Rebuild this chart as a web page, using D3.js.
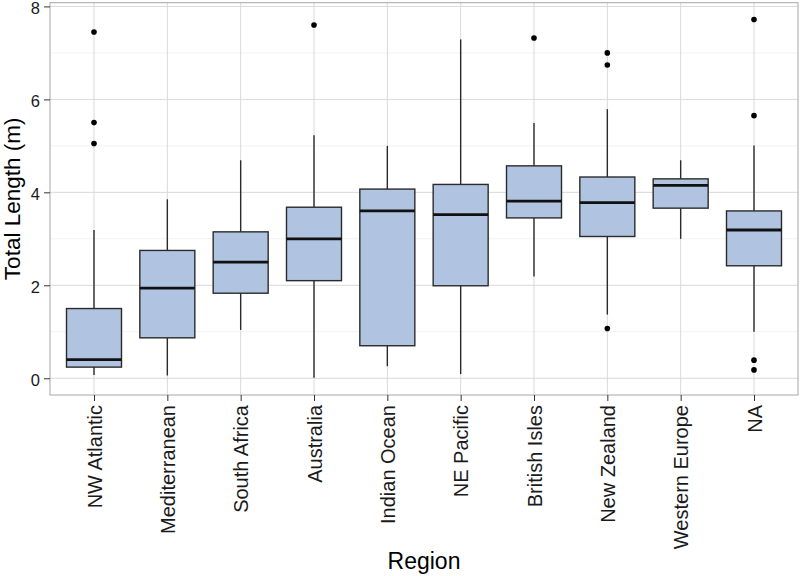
<!DOCTYPE html>
<html>
<head>
<meta charset="utf-8">
<script src="https://cdn.jsdelivr.net/npm/d3@7"></script>
<style>
  html, body { margin: 0; padding: 0; background: #fff; }
  svg { display: block; font-family: "Liberation Sans", Arial, Helvetica, sans-serif; }
</style>
</head>
<body>
<svg id="chart" width="800" height="576"></svg>
<script>
const categories = ["NW Atlantic", "Mediterranean", "South Africa", "Australia", "Indian Ocean",
                    "NE Pacific", "British Isles", "New Zealand", "Western Europe", "NA"];
const whiskerLow  = [0.07, 0.06, 1.04, 0.01, 0.26, 0.09, 2.19, 1.37, 3.00, 1.00];
const q1          = [0.24, 0.87, 1.83, 2.10, 0.70, 1.99, 3.45, 3.05, 3.66, 2.42];
const medians     = [0.40, 1.94, 2.50, 3.00, 3.60, 3.52, 3.81, 3.78, 4.15, 3.19];
const q3          = [1.50, 2.75, 3.15, 3.68, 4.07, 4.17, 4.57, 4.33, 4.29, 3.60];
const whiskerHigh = [3.19, 3.85, 4.69, 5.23, 5.00, 7.29, 5.49, 5.79, 4.69, 5.01];
const outliers    = [[7.45, 5.50, 5.05], [], [], [7.60], [], [], [7.32],
                     [7.00, 6.74, 1.07], [], [7.72, 5.65, 0.39, 0.18]];
const yTicks = [0, 2, 4, 6, 8];
const yMinor = [1, 3, 5, 7];

const svg = d3.select("#chart");
const L = 50, R = 798, T = 2.7, B = 395;

const x = d3.scalePoint().domain(categories).range([L, R]).padding(0.6);
const y = d3.scaleLinear().domain([-0.36, 8.08]).range([B, T]);
const boxW = x.step() * 0.75;

const g = svg.append("g");

// minor grid
g.selectAll(".minor").data(yMinor).join("line")
  .attr("x1", L).attr("x2", R)
  .attr("y1", d => y(d)).attr("y2", d => y(d))
  .attr("stroke", "#f2f2f2").attr("stroke-width", 1);
// major grid
g.selectAll(".majorY").data(yTicks).join("line")
  .attr("x1", L).attr("x2", R)
  .attr("y1", d => y(d)).attr("y2", d => y(d))
  .attr("stroke", "#d9d9d9").attr("stroke-width", 1);
g.selectAll(".majorX").data(categories).join("line")
  .attr("x1", d => x(d)).attr("x2", d => x(d))
  .attr("y1", T).attr("y2", B)
  .attr("stroke", "#d9d9d9").attr("stroke-width", 1);

const data = categories.map((c, i) => ({
  c, lo: whiskerLow[i], q1: q1[i], med: medians[i], q3: q3[i], hi: whiskerHigh[i], out: outliers[i]
}));

const bx = g.selectAll(".box").data(data).join("g");
// whiskers
bx.append("line")
  .attr("x1", d => x(d.c)).attr("x2", d => x(d.c))
  .attr("y1", d => y(d.q3)).attr("y2", d => y(d.hi))
  .attr("stroke", "#2b2b2b").attr("stroke-width", 1.4);
bx.append("line")
  .attr("x1", d => x(d.c)).attr("x2", d => x(d.c))
  .attr("y1", d => y(d.q1)).attr("y2", d => y(d.lo))
  .attr("stroke", "#2b2b2b").attr("stroke-width", 1.4);
// box
bx.append("rect")
  .attr("x", d => x(d.c) - boxW / 2).attr("width", boxW)
  .attr("y", d => y(d.q3)).attr("height", d => y(d.q1) - y(d.q3))
  .attr("fill", "#B0C4E2").attr("stroke", "#2b2b2b").attr("stroke-width", 1.4);
// median
bx.append("line")
  .attr("x1", d => x(d.c) - boxW / 2).attr("x2", d => x(d.c) + boxW / 2)
  .attr("y1", d => y(d.med)).attr("y2", d => y(d.med))
  .attr("stroke", "#111").attr("stroke-width", 2.8);
// outliers
bx.selectAll("circle").data(d => d.out.map(v => ({ c: d.c, v }))).join("circle")
  .attr("cx", d => x(d.c)).attr("cy", d => y(d.v)).attr("r", 2.8)
  .attr("fill", "#000");

// panel border
g.append("rect").attr("x", L).attr("y", T).attr("width", R - L).attr("height", B - T)
  .attr("fill", "none").attr("stroke", "#a6a6a6").attr("stroke-width", 1);

// y axis
const yAxis = d3.axisLeft(y).tickValues(yTicks).tickSize(6).tickPadding(4).tickFormat(d3.format("d"));
const ya = svg.append("g").attr("transform", `translate(${L},0)`).call(yAxis);
ya.select(".domain").remove();
ya.selectAll(".tick line").attr("stroke", "#333").attr("stroke-width", 1);
ya.selectAll(".tick text").attr("fill", "#1a1a1a").attr("dy", "0.42em")
  .style("font-size", "16.5px").style("font-family", "'Liberation Sans', Arial, sans-serif");

// x axis
const xAxis = d3.axisBottom(x).tickSize(6).tickPadding(4);
const xa = svg.append("g").attr("transform", `translate(0,${B})`).call(xAxis);
xa.select(".domain").remove();
xa.selectAll(".tick line").attr("stroke", "#333").attr("stroke-width", 1);
xa.selectAll(".tick text")
  .attr("fill", "#1a1a1a")
  .style("font-size", "20px").style("font-family", "'Liberation Sans', Arial, sans-serif")
  .attr("transform", "rotate(-90)")
  .attr("text-anchor", "end")
  .attr("x", -10).attr("y", 0).attr("dy", "0.35em");

// axis titles
svg.append("text")
  .attr("x", (L + R) / 2).attr("y", 569)
  .attr("text-anchor", "middle")
  .style("font-size", "23px").attr("fill", "#000")
  .text("Region");
svg.append("text")
  .attr("transform", `translate(20,${(T + B) / 2}) rotate(-90)`)
  .attr("text-anchor", "middle")
  .style("font-size", "22.5px").attr("fill", "#000")
  .text("Total Length (m)");
</script>
</body>
</html>
